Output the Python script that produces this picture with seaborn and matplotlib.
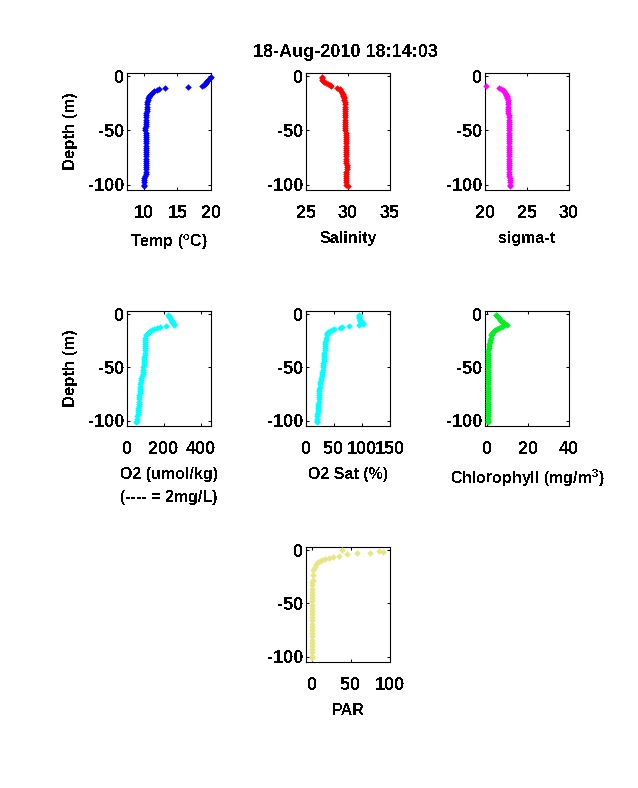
import numpy as np
import pandas as pd
import seaborn as sns
import matplotlib
matplotlib.use('Agg')
import matplotlib.pyplot as plt

# CTD cast 18-Aug-2010
nan = np.nan
depth = [-1, -2, -3, -4, -5, -6, -7, -8, -9, -10,
         -11, -12, -13, -14, -15, -16, -17, -18, -19, -20,
         -22, -24, -26, -28, -30, -32, -34, -36, -38, -40,
         -42, -44, -46, -48, -50, -52, -54, -56, -58, -60,
         -62, -64, -66, -68, -70, -72, -74, -76, -78, -80,
         -82, -84, -86, -88, -90, -92, -94, -96, -98, -100, -101]

temp = [20.0, 19.8, 19.6, 19.4, 19.3, 19.2, 19.1, 18.9, 18.7, 16.6,
        13.1, 12.3, 11.9, 11.5, 11.2, 11.0, 10.9, 10.8, 10.7, 10.65,
        10.6, 10.55, 10.5, 10.5, 10.45, 10.45, 10.4, 10.4, 10.35, 10.35,
        10.3, 10.3, 10.3, 10.25, 10.25, 10.3, 10.3, 10.3, 10.3, 10.3,
        10.3, 10.3, 10.3, 10.3, 10.3, 10.3, 10.3, 10.3, 10.3, 10.35,
        10.35, 10.35, 10.35, 10.3, 10.3, 10.2, 10.1, 10.1, 10.1, 10.1, 10.1]
salinity = [26.9, 26.85, 26.9, 27.0, 27.2, 27.4, 27.6, 27.8, 28.0, nan,
            28.7, 29.0, 29.1, 29.2, 29.3, 29.35, 29.4, 29.45, 29.5, 29.5,
            29.55, 29.6, 29.6, 29.6, 29.65, 29.65, 29.65, 29.65, 29.6, 29.6,
            29.65, 29.7, 29.7, 29.7, 29.7, 29.75, 29.75, 29.75, 29.75, 29.75,
            29.75, 29.75, 29.75, 29.75, 29.75, 29.8, 29.8, 29.8, 29.8, 29.8,
            29.85, 29.85, 29.85, 29.8, 29.8, 29.75, 29.75, 29.75, 29.75, 29.8, 29.95]
sigma_t = [nan, nan, nan, nan, nan, nan, nan, nan, 20.1, nan,
           21.65, 21.95, 22.15, 22.3, 22.4, 22.5, 22.55, 22.6, 22.65, 22.67,
           22.7, 22.72, 22.72, 22.72, 22.75, 22.75, 22.78, 22.8, 22.8, 22.82,
           22.82, 22.82, 22.84, 22.84, 22.85, 22.85, 22.85, 22.85, 22.85, 22.85,
           22.85, 22.85, 22.85, 22.86, 22.86, 22.86, 22.86, 22.86, 22.86, 22.86,
           22.88, 22.88, 22.88, 22.88, 22.9, 22.9, 22.92, 22.95, 22.97, 23.0, 23.0]
o2 = [222, 226, 230, 234, 238, 242, 246, 250, 254, 256,
      211, 178, 160, 146, 135, 125, 118, 112, 106, 103,
      100, 98, 97, 96, 96, 96, 96, 96, 95, 94,
      94, 93, 92, 90, 88, 87, 86, 84, 81, 78,
      76, 74, 72, 70, 69, 68, 68, 67, 67, 67,
      66, 65, 64, 62, 61, 59, 57, 55, 53, 52, 51]
o2_sat = [95, 95, 95, 95, 96, 97, 99, 101, 102, 95,
          76, 65, 60, 50, 46, 43, 40, 38, 37.5, 37,
          36, 35, 34.5, 34, 33.6, 33.4, 33.2, 33, 32.5, 32,
          31.8, 31.4, 31, 30.5, 30, 29.5, 29, 28.4, 27.8, 27,
          26.4, 25.8, 25.2, 24.6, 24, 23.8, 23.6, 23.4, 23.2, 23,
          22.6, 22.2, 21.8, 21.4, 21, 20.6, 20.2, 19.8, 19.4, 19, 19]
chl = [4.5, 5.0, 5.5, 6.0, 6.5, 7.0, 7.6, 8.2, 9.0, 9.5,
       8.0, 7.0, 6.0, 5.0, 4.0, 3.3, 2.9, 2.5, 2.2, 2.0,
       1.8, 1.5, 1.3, 1.0, 0.8, 0.8, 0.7, 0.7, 0.7, 0.6,
       0.6, 0.6, 0.6, 0.6, 0.6, 0.6, 0.6, 0.6, 0.6, 0.6,
       0.6, 0.6, 0.6, 0.6, 0.6, 0.6, 0.6, 0.6, 0.6, 0.6,
       0.6, 0.6, 0.6, 0.6, 0.6, 0.6, 0.6, 0.6, 0.6, 0.6, 0.6]

par_depth = [0, -0.3, -1.3, -2.5, -3, -4, -5, -6, -7, -8.4, -9.4, -10, -11.5, -13, -15.6, -19, -23, -28,
             -30, -33, -36, -39, -42, -45, -48, -51, -54, -57, -60, -63, -66, -69, -72, -75, -78, -81,
             -84, -87, -90, -93, -96, -99, -101]
par = [38, 86, 91, 74, 58, 45, 35, 27, 22, 17, 13, 10, 7.3, 5, 3.4, 2, 1.3, 0.9,
       0.8, 0.7, 0.6, 0.6, 0.5, 0.5, 0.5, 0.5, 0.5, 0.5, 0.5, 0.5, 0.5, 0.5, 0.5, 0.5, 0.5, 0.5,
       0.5, 0.5, 0.5, 0.5, 0.5, 0.5, 0.5]

sns.set_style('ticks')
plt.rcParams['font.family'] = ['Liberation Sans', 'DejaVu Sans']
plt.rcParams['font.weight'] = 'bold'
plt.rcParams['axes.labelweight'] = 'bold'
plt.rcParams['text.color'] = 'black'
plt.rcParams['axes.labelcolor'] = 'black'
plt.rcParams['axes.unicode_minus'] = False
plt.rcParams['mathtext.fontset'] = 'custom'
plt.rcParams['mathtext.bf'] = 'Liberation Sans:bold'
plt.rcParams['mathtext.default'] = 'bf'
plt.rcParams['text.antialiased'] = False

W, H = 638, 788
fig = plt.figure(figsize=(W / 100, H / 100), dpi=100)


def profile(left, top, x, y, color, xlim, xticks, xlabel, ylabel=False, labelpad=7, height=115):
    ax = fig.add_axes([left / W, 1 - (top + height) / H, 84 / W, height / H])
    data = pd.DataFrame({'x': x, 'y': y}).dropna()
    sns.scatterplot(data=data, x='x', y='y', ax=ax, color=color, marker='D', s=11,
                    linewidth=0, antialiased=False, clip_on=False, zorder=3)
    ax.set_xlim(xlim)
    ax.set_ylim(-105, 3)
    ax.set_xticks(xticks)
    ax.set_yticks([0, -50, -100])
    ax.tick_params(direction='in', length=2.2, width=0.75, top=True, right=True,
                   labelsize=13, colors='black')
    ax.tick_params(axis='x', pad=11)
    ax.tick_params(axis='y', pad=2)
    for s in ax.spines.values():
        s.set_visible(True)
        s.set_linewidth(0.8)
        s.set_color('black')
    ax.set_xlabel(xlabel, fontsize=11.5, labelpad=labelpad, linespacing=1.6)
    ax.set_ylabel('Depth (m)' if ylabel else '', fontsize=12, labelpad=7)
    return ax


profile(127, 73, temp, depth, '#0000ff', (7.5, 20), [10, 15, 20], 'Temp ($^{o}$C)', True, labelpad=7.5, height=117)
mid = profile(306, 73, salinity, depth, '#ff0000', (25, 35), [25, 30, 35], 'Salinity', labelpad=6, height=117)
profile(485, 73, sigma_t, depth, '#ff00ff', (20, 30), [20, 25, 30], 'sigma-t', labelpad=6, height=117)

profile(127, 311, o2, depth, '#00ffff', (0, 455), [0, 200, 400], 'O2 (umol/kg)\n(---- = 2mg/L)', True, labelpad=6.5)
profile(306, 311, o2_sat, depth, '#00ffff', (0, 150), [0, 50, 100, 150], 'O2 Sat (%)', labelpad=6.5)
profile(485, 311, chl, depth, '#00ee22', (-1, 40), [0, 20, 40], 'Chlorophyll (mg/m$^{3}$)', labelpad=6.5)

profile(306, 547, par, par_depth, '#e6e682', (-7.5, 100), [0, 50, 100], 'PAR', labelpad=6.5)

mid.set_title('18-Aug-2010 18:14:03', fontsize=13, fontweight='bold', pad=11.5, x=0.47)

fig.savefig('out.png', dpi=100, facecolor='white')
